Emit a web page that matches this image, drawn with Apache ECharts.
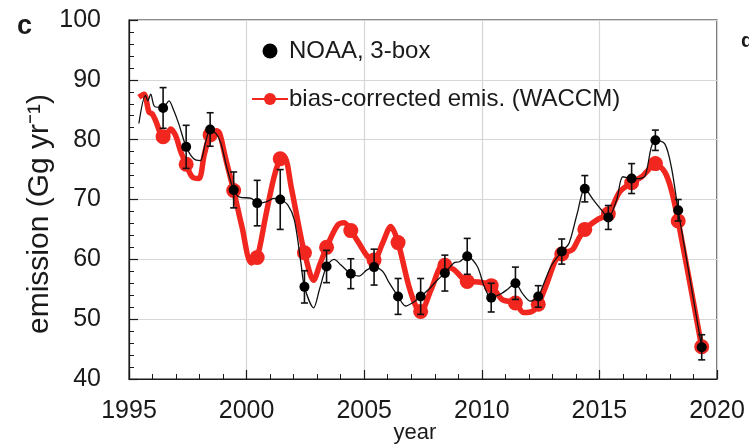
<!DOCTYPE html>
<html>
<head>
<meta charset="utf-8">
<script src="https://cdn.jsdelivr.net/npm/echarts@6/dist/echarts.min.js"></script>
<style>html,body{margin:0;padding:0;background:#fff}#c{width:749px;height:444px}</style>
</head>
<body>
<div id="c"></div>
<script>
// ---- data ----
const xTicks = [1995, 2000, 2005, 2010, 2015, 2020];
const yTicks = [40, 50, 60, 70, 80, 90, 100];

// NOAA 3-box annual estimates
const noaaTime = [1996.45, 1997.43, 1998.45, 1999.45, 2000.45, 2001.43, 2002.46, 2003.4, 2004.43, 2005.42, 2006.44, 2007.4,
                  2008.43, 2009.38, 2010.4, 2011.43, 2012.4, 2013.4, 2014.38, 2015.38, 2016.37, 2017.38, 2018.35, 2019.35];
const noaaValue = [85.3, 78.8, 81.7, 71.6, 69.4, 70.0, 55.4, 58.8, 57.6, 58.7, 53.8, 53.8,
                   57.7, 60.5, 53.6, 56.0, 53.8, 61.3, 71.8, 67.0, 73.5, 79.9, 68.2, 45.3];
const noaaErr = [3.4, 3.6, 2.8, 3.0, 3.8, 5.0, 2.7, 2.7, 2.5, 3.0, 3.0, 3.0,
                 3.0, 3.0, 2.4, 2.7, 1.8, 2.1, 2.2, 2.0, 2.5, 1.7, 1.8, 2.1];

// NOAA thin (sub-annual) line
const noaaLineTime = [1995.42, 1995.7, 1995.8, 1995.92, 1996.1, 1996.45, 1996.7, 1996.9, 1997.12, 1997.43, 1997.75, 1998.03,
  1998.25, 1998.45, 1998.7, 1998.9, 1999.15, 1999.45, 1999.7, 2000.2, 2000.45, 2000.83, 2001.15, 2001.43,
  2001.75, 2002.03, 2002.31, 2002.46, 2002.85, 2003.1, 2003.4, 2003.72, 2004.0, 2004.43, 2004.78, 2005.1,
  2005.42, 2005.78, 2006.06, 2006.44, 2006.76, 2007.04, 2007.4, 2007.75, 2008.1, 2008.43, 2008.81, 2009.05,
  2009.38, 2009.81, 2010.1, 2010.4, 2010.8, 2011.1, 2011.43, 2011.71, 2012.07, 2012.4, 2012.7, 2012.98,
  2013.4, 2013.71, 2014.06, 2014.38, 2014.75, 2015.1, 2015.38, 2015.73, 2016.0, 2016.37, 2016.72, 2016.95,
  2017.21, 2017.38, 2017.78, 2018.06, 2018.35, 2019.35];
const noaaLineValue = [82.7, 87.4, 86.5, 87.6, 85.5, 85.4, 86.5, 84.9, 82.6, 78.8, 76.8, 76.5,
  79.5, 81.6, 81.0, 79.5, 75.5, 71.6, 70.4, 70.2, 69.4, 69.6, 70.2, 70.0,
  69.1, 66.6, 59.4, 55.4, 51.9, 55.0, 58.8, 60.0, 59.1, 57.6, 57.2, 58.2,
  58.7, 58.0, 56.1, 53.8, 52.2, 52.7, 53.8, 55.0, 56.5, 57.7, 59.4, 59.6,
  60.5, 58.8, 55.5, 53.6, 54.2, 55.0, 56.0, 54.4, 53.0, 53.8, 56.6, 59.1,
  61.3, 62.7, 67.7, 71.8, 69.9, 68.2, 67.0, 69.9, 73.8, 73.5, 73.5, 74.0,
  78.8, 79.9, 79.3, 75.4, 68.2, 45.3];

// bias-corrected emissions (WACCM): line and annual dots
const waccmLineTime = [1995.42, 1995.64, 1995.85, 1995.99, 1996.13, 1996.45, 1996.6, 1996.77, 1996.98, 1997.2, 1997.43, 1997.68,
  1997.97, 1998.2, 1998.45, 1998.73, 1998.86, 1999.1, 1999.45, 1999.8, 2000.2, 2000.45, 2000.8, 2001.15,
  2001.43, 2001.61, 2001.9, 2002.25, 2002.46, 2002.85, 2003.1, 2003.4, 2003.87, 2004.15, 2004.43, 2004.78,
  2005.14, 2005.42, 2005.78, 2006.13, 2006.44, 2006.9, 2007.26, 2007.4, 2007.85, 2008.35, 2008.81, 2009.38,
  2009.87, 2010.4, 2010.86, 2011.43, 2011.78, 2012.14, 2012.4, 2012.78, 2013.14, 2013.4, 2013.85, 2014.1,
  2014.38, 2014.9, 2015.38, 2015.87, 2016.37, 2016.8, 2017.0, 2017.38, 2017.78, 2018.06, 2018.35, 2019.35];
const waccmLineValue = [87.1, 87.6, 84.6, 84.3, 83.2, 80.5, 80.8, 81.8, 80.7, 78.0, 75.9, 73.8,
  73.5, 77.5, 80.8, 81.5, 81.0, 77.0, 71.5, 65.5, 59.4, 60.3, 67.0, 73.5,
  76.8, 77.1, 72.0, 64.9, 61.1, 56.5, 59.0, 62.0, 65.7, 66.1, 64.8, 62.7,
  60.5, 59.9, 62.7, 65.5, 62.8, 55.5, 51.6, 51.3, 55.0, 59.0, 58.3, 56.3,
  56.2, 55.6, 53.3, 52.7, 51.1, 51.3, 52.5, 56.1, 59.9, 60.9, 61.6, 63.3,
  65.0, 66.6, 67.6, 71.3, 72.8, 73.8, 74.6, 76.0, 74.6, 71.6, 66.4, 45.4];
const waccmDotTime = noaaTime;
const waccmDotValue = [80.5, 75.9, 80.8, 71.5, 60.3, 76.8, 61.1, 62.0, 64.8, 59.9, 62.8, 51.3,
                       59.0, 56.3, 55.6, 52.7, 52.5, 60.9, 65.0, 67.6, 72.8, 76.0, 66.4, 45.4];

const legendNoaa = 'NOAA, 3-box';
const legendWaccm = 'bias-corrected emis. (WACCM)';
const yTitle = 'emission (Gg yr\u207B\u00B9)';
const xTitle = 'year';

// ---- chart ----
const zip = (a, b) => a.map((v, i) => [v, b[i]]);
const FONT = '"Liberation Sans", Arial, Helvetica, sans-serif';
const INK = '#1a1a1a';
const RED = '#f0261f';
const chart = echarts.init(document.getElementById('c'), null, {renderer: 'canvas'});

const errData = noaaTime.map((t, i) => [t, noaaValue[i] - noaaErr[i], noaaValue[i] + noaaErr[i]]);

chart.setOption({
  animation: false,
  backgroundColor: '#fff',
  grid: {left: 129, right: 32, top: 20, bottom: 65, show: true, borderColor: INK, borderWidth: 1.2, backgroundColor: 'transparent'},
  legend: {
    orient: 'vertical', left: 246, top: 33, itemGap: 22, itemWidth: 36, itemHeight: 15,
    textStyle: {fontFamily: FONT, fontSize: 24, color: INK, lineHeight: 26, padding: [0, 0, 0, -4]},
    data: [
      {name: legendNoaa, icon: 'circle'},
      {name: legendWaccm}
    ]
  },
  graphic: [
    {type: 'text', left: 17, top: 13, style: {text: 'c', font: 'bold 27px ' + FONT, fill: INK}},
    {type: 'text', x: 415, y: 433, style: {text: xTitle, font: '22px ' + FONT, fill: INK, textAlign: 'center', textVerticalAlign: 'middle'}},
    {type: 'text', x: 40, y: 214, rotation: Math.PI / 2,
     style: {text: yTitle, font: '30px ' + FONT, fill: INK, textAlign: 'center', textVerticalAlign: 'middle'}},
    {type: 'text', x: 741, y: 31, style: {text: 'd', font: 'bold 20px ' + FONT, fill: INK}}
  ],
  xAxis: {
    type: 'value', min: 1995, max: 2020, interval: 5,
    axisLine: {show: true, lineStyle: {color: INK, width: 1.2}},
    axisTick: {show: true, inside: true, length: 9, lineStyle: {color: INK, width: 1.2}},
    minorTick: {show: true, splitNumber: 5, length: 5, lineStyle: {color: INK, width: 1}},
    splitLine: {show: true, lineStyle: {color: '#d6d6d6', width: 1.2}},
    axisLabel: {fontFamily: FONT, fontSize: 25, color: INK, margin: 20, formatter: v => String(v),
      customValues: xTicks}
  },
  yAxis: {
    type: 'value', min: 40, max: 100, interval: 10,
    axisLine: {show: true, lineStyle: {color: INK, width: 1.2}},
    axisTick: {show: true, inside: true, length: 9, lineStyle: {color: INK, width: 1.2}},
    minorTick: {show: true, splitNumber: 5, length: 5, lineStyle: {color: INK, width: 1}},
    splitLine: {show: true, lineStyle: {color: '#d6d6d6', width: 1.2}},
    axisLabel: {fontFamily: FONT, fontSize: 25, color: INK, margin: 28, customValues: yTicks}
  },
  series: [
    {
      name: legendWaccm, type: 'line', data: zip(waccmLineTime, waccmLineValue),
      smooth: 0.3, symbol: 'circle', symbolSize: 15, showSymbol: false,
      lineStyle: {color: RED, width: 5.5}, itemStyle: {color: RED}, z: 2
    },
    {
      name: legendWaccm, type: 'scatter', data: zip(waccmDotTime, waccmDotValue),
      symbol: 'circle', symbolSize: 15, itemStyle: {color: RED, opacity: 1}, z: 3
    },
    {
      type: 'line', data: zip(noaaLineTime, noaaLineValue), smooth: 0.3, showSymbol: false, symbol: 'none',
      lineStyle: {color: '#111', width: 1.3}, z: 4
    },
    {
      type: 'custom', data: errData, z: 5,
      renderItem: (params, api) => {
        const top = api.coord([api.value(0), api.value(2)]);
        const bot = api.coord([api.value(0), api.value(1)]);
        const w = 3.5;
        const st = {stroke: '#111', lineWidth: 1.6};
        return {type: 'group', children: [
          {type: 'line', shape: {x1: top[0], y1: top[1], x2: bot[0], y2: bot[1]}, style: st},
          {type: 'line', shape: {x1: top[0] - w, y1: top[1], x2: top[0] + w, y2: top[1]}, style: st},
          {type: 'line', shape: {x1: bot[0] - w, y1: bot[1], x2: bot[0] + w, y2: bot[1]}, style: st}
        ]};
      }
    },
    {
      name: legendNoaa, type: 'scatter', data: zip(noaaTime, noaaValue),
      symbol: 'circle', symbolSize: 10, itemStyle: {color: '#000', opacity: 1}, z: 6
    }
  ]
});
</script>
</body>
</html>
